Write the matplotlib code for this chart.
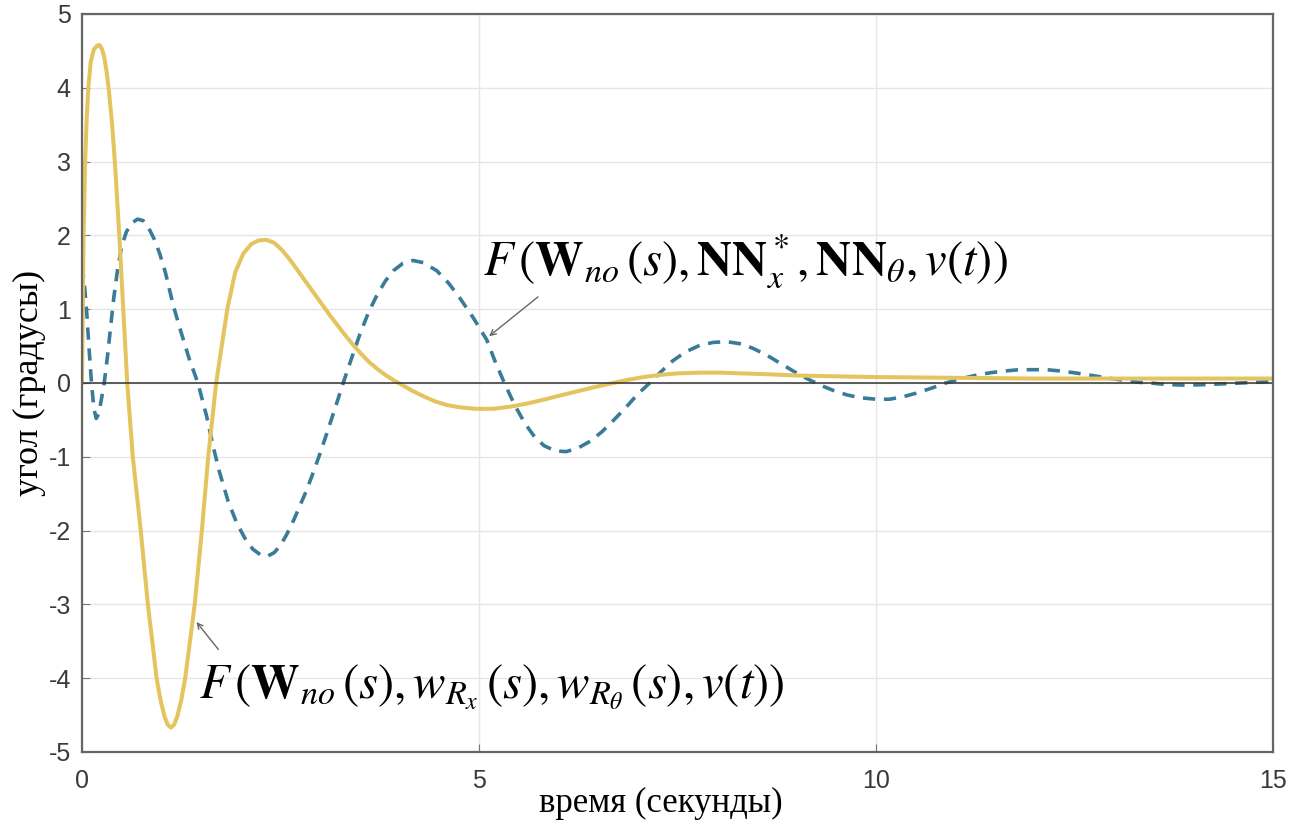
import matplotlib
matplotlib.use("Agg")
import matplotlib.pyplot as plt
import numpy as np

# values
t_solid = [0.00, 0.01, 0.02, 0.04, 0.06, 0.08, 0.11, 0.15, 0.19, 0.22, 0.25, 0.28,
           0.31, 0.34, 0.38, 0.42, 0.47, 0.52, 0.57, 0.64, 0.74, 0.83, 0.94, 0.99,
           1.04, 1.08, 1.12, 1.16, 1.20, 1.25, 1.30, 1.42, 1.51, 1.59, 1.69, 1.76,
           1.83, 1.93, 2.03, 2.13, 2.22, 2.32, 2.42, 2.52, 2.62, 2.72, 2.82, 2.92,
           3.02, 3.12, 3.22, 3.32, 3.42, 3.52, 3.62, 3.72, 3.82, 3.92, 4.02, 4.15,
           4.30, 4.45, 4.60, 4.76, 4.95, 5.18, 5.40, 5.60, 5.80, 6.02, 6.25, 6.44,
           6.65, 6.86, 7.07, 7.28, 7.50, 7.79, 8.05, 8.30, 8.60, 9.04, 9.50, 10.0,
           11.0, 12.0, 13.0, 14.0, 15.0]
y_solid = [0.00, 1.00, 2.00, 3.00, 3.60, 4.00, 4.35, 4.52, 4.57, 4.58, 4.53, 4.42,
           4.22, 3.95, 3.50, 2.90, 2.00, 1.00, 0.00, -1.00, -2.00, -3.00, -4.00, -4.30,
           -4.52, -4.63, -4.67, -4.63, -4.52, -4.30, -4.00, -3.00, -2.00, -1.00, 0.00, 0.50,
           1.00, 1.50, 1.75, 1.88, 1.93, 1.94, 1.90, 1.80, 1.67, 1.52, 1.37, 1.22,
           1.07, 0.92, 0.78, 0.64, 0.51, 0.39, 0.28, 0.19, 0.11, 0.04, -0.02, -0.10,
           -0.18, -0.25, -0.30, -0.33, -0.35, -0.35, -0.32, -0.28, -0.23, -0.17, -0.11, -0.06,
           -0.01, 0.04, 0.08, 0.11, 0.13, 0.14, 0.14, 0.13, 0.12, 0.10, 0.09, 0.08,
           0.07, 0.06, 0.06, 0.06, 0.06]

t_dash = [0.00, 0.03, 0.06, 0.09, 0.12, 0.15, 0.18, 0.21, 0.24, 0.28, 0.32, 0.36,
          0.40, 0.45, 0.50, 0.56, 0.63, 0.70, 0.77, 0.84, 0.91, 0.98, 1.05, 1.15,
          1.25, 1.35, 1.46, 1.57, 1.65, 1.73, 1.84, 1.95, 2.05, 2.15, 2.25, 2.33,
          2.42, 2.50, 2.58, 2.67, 2.75, 2.83, 2.91, 3.00, 3.10, 3.20, 3.29, 3.40,
          3.50, 3.61, 3.72, 3.82, 3.92, 4.04, 4.17, 4.30, 4.47, 4.62, 4.76, 4.93,
          5.10, 5.20, 5.32, 5.45, 5.58, 5.70, 5.82, 5.96, 6.10, 6.25, 6.40, 6.55,
          6.70, 6.86, 7.00, 7.15, 7.30, 7.44, 7.60, 7.78, 7.95, 8.12, 8.30, 8.45,
          8.62, 8.79, 8.96, 9.13, 9.30, 9.46, 9.63, 9.80, 10.00, 10.17, 10.33, 10.50,
          10.70, 10.88, 11.08, 11.28, 11.45, 11.60, 11.80, 11.98, 12.15, 12.35, 12.55, 12.73,
          12.90, 13.10, 13.30, 13.45, 13.65, 13.90, 14.20, 14.60, 15.00]
y_dash = [1.60, 1.35, 0.95, 0.45, 0.00, -0.35, -0.48, -0.42, -0.25, 0.00, 0.35, 0.75,
          1.15, 1.55, 1.85, 2.05, 2.17, 2.22, 2.20, 2.10, 1.95, 1.75, 1.50, 1.05,
          0.68, 0.33, 0.00, -0.45, -0.85, -1.20, -1.60, -1.90, -2.10, -2.25, -2.33, -2.35,
          -2.30, -2.20, -2.05, -1.85, -1.65, -1.45, -1.22, -0.95, -0.63, -0.30, 0.00, 0.35,
          0.66, 0.96, 1.20, 1.38, 1.52, 1.62, 1.66, 1.63, 1.52, 1.35, 1.15, 0.88,
          0.58, 0.30, 0.00, -0.30, -0.55, -0.73, -0.85, -0.92, -0.93, -0.88, -0.79, -0.66,
          -0.50, -0.32, -0.15, 0.00, 0.16, 0.30, 0.42, 0.51, 0.55, 0.56, 0.53, 0.47,
          0.38, 0.27, 0.16, 0.06, -0.03, -0.10, -0.16, -0.20, -0.22, -0.22, -0.19, -0.14,
          -0.07, 0.00, 0.06, 0.11, 0.14, 0.16, 0.18, 0.18, 0.18, 0.16, 0.13, 0.10,
          0.07, 0.04, 0.01, 0.00, -0.02, -0.03, -0.02, 0.00, 0.02]

x_ticks = [0, 5, 10, 15]
y_ticks = [-5, -4, -3, -2, -1, 0, 1, 2, 3, 4, 5]

label_top = r'$F\,(\mathbf{W}_{no}\,(s),\mathbf{NN}_x^*,\mathbf{NN}_\theta,v(t))$'
label_bottom = r'$F\,(\mathbf{W}_{no}\,(s),w_{R_x}\,(s),w_{R_\theta}\,(s),v(t))$'

plt.rcParams['mathtext.fontset'] = 'stix'
plt.rcParams['axes.unicode_minus'] = False

fig = plt.figure(figsize=(12.95, 8.23), dpi=100)
ax = fig.add_axes([0.0633, 0.0863, 0.9197, 0.8967])

ax.plot(t_dash, y_dash, color='#3a7b98', lw=2.6, dashes=(3.4, 2.4))
ax.plot(t_solid, y_solid, color='#e3c45f', lw=2.9, solid_joinstyle='round')
ax.axhline(0, color='#333333', lw=1.1)

ax.set_xlim(0, 15)
ax.set_ylim(-5, 5)
ax.set_xticks(x_ticks)
ax.set_yticks(y_ticks)
ax.grid(True, color='#e6e6e6', lw=1.0)
ax.set_axisbelow(True)
for s in ax.spines.values():
    s.set_color('#666666')
    s.set_linewidth(1.6)
ax.tick_params(direction='in', length=6, color='#777777', labelcolor='#3a3a3a',
               labelsize=18)
ax.tick_params(axis='x', pad=12)
ax.tick_params(axis='y', pad=8)
for lab in ax.get_xticklabels() + ax.get_yticklabels():
    lab.set_family('Liberation Sans')

ax.set_xlabel('время (секунды)', family='Liberation Serif', fontsize=25)
ax.set_ylabel('угол (градусы)', family='Liberation Serif', fontsize=26, labelpad=2)
ax.xaxis.set_label_coords(0.486, -0.048)

ax.text(5.05, 1.46, label_top, fontsize=35, ha='left', va='baseline')
ax.annotate('', xy=(5.10, 0.61), xytext=(5.77, 1.19),
            arrowprops=dict(arrowstyle='->', color='#666666', lw=1.0))
ax.text(1.47, -4.27, label_bottom, fontsize=35, ha='left', va='baseline')
ax.annotate('', xy=(1.42, -3.21), xytext=(1.74, -3.64),
            arrowprops=dict(arrowstyle='->', color='#666666', lw=1.0))

fig.savefig('out.png', dpi=100, facecolor='white')
